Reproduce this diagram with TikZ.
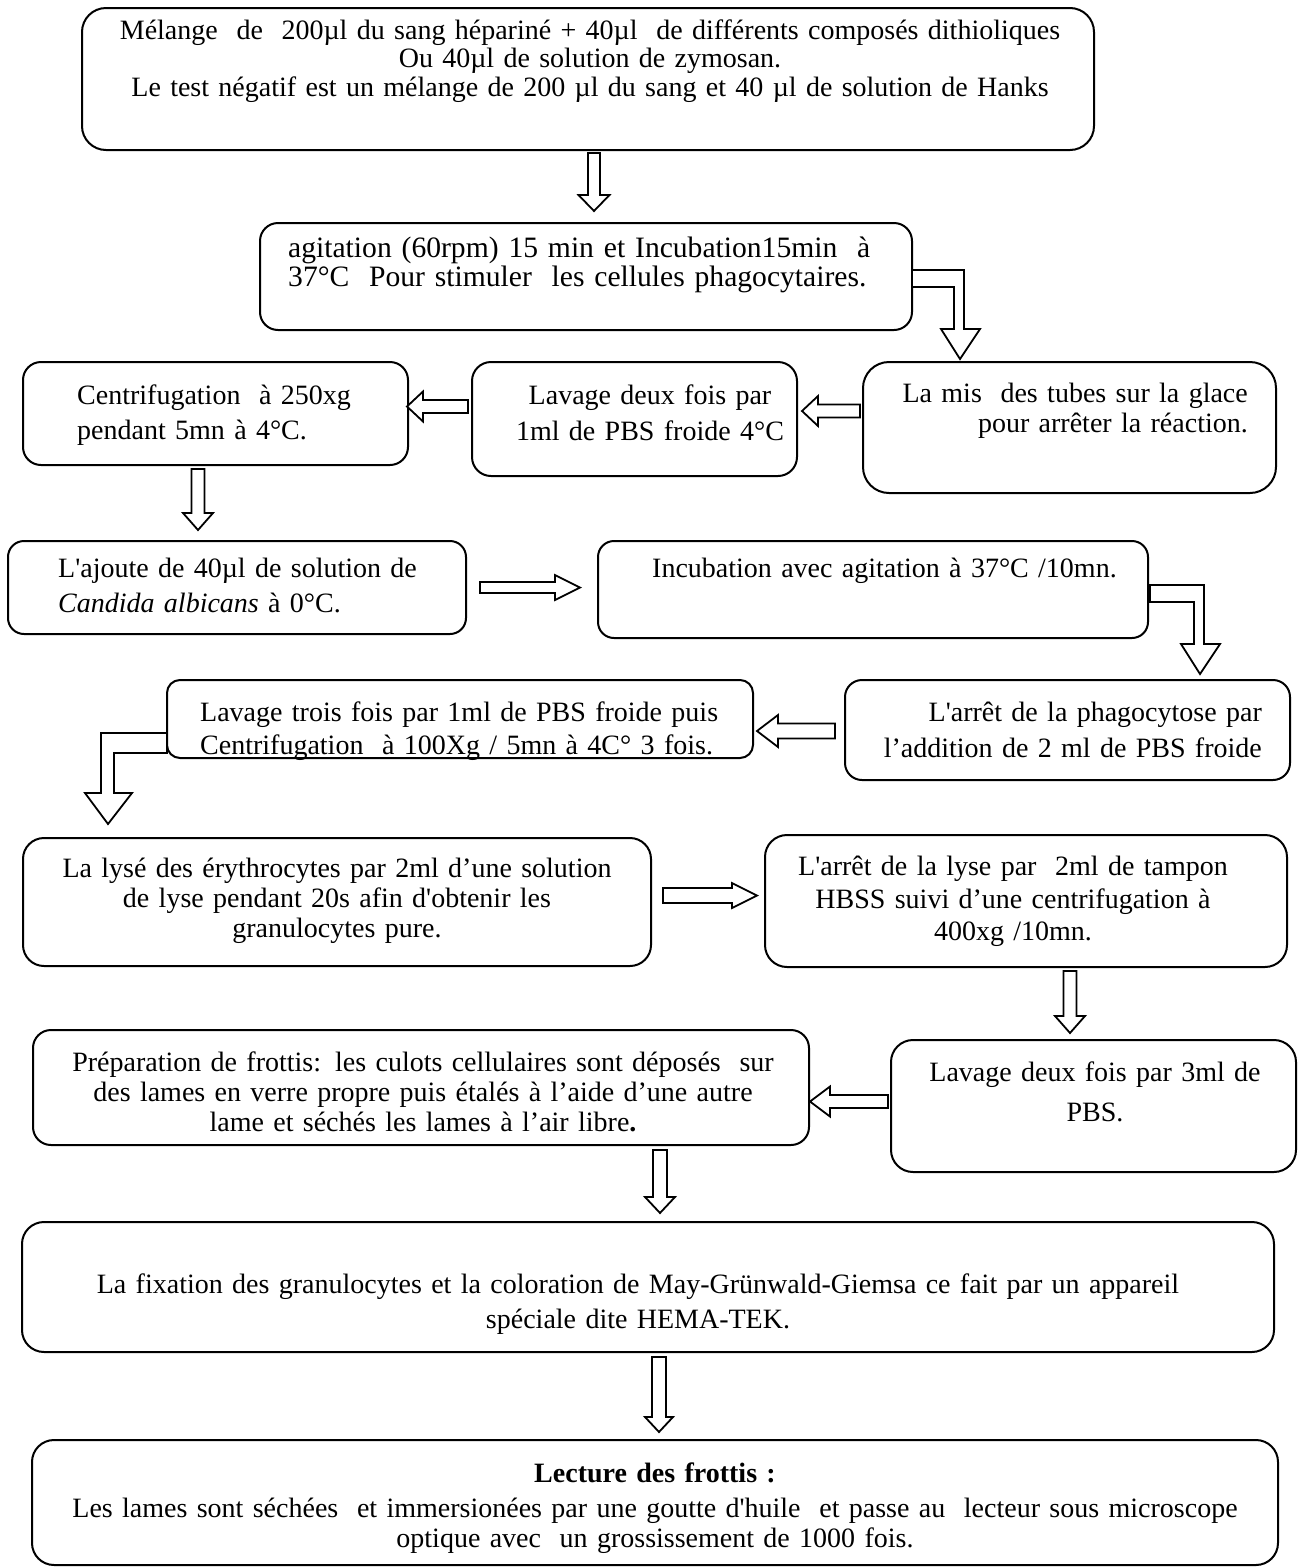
\documentclass[tikz,border=0pt]{standalone}
\usepackage{fontspec}
\setmainfont{Liberation Serif}
\usetikzlibrary{fit}
\tikzset{
  box/.style={draw, line width=2pt, inner sep=0pt, rounded corners=#1},
  box/.default=20pt,
  blk/.style={draw, line width=1.8pt, fill=white, line join=miter},
  txt/.style={inner sep=0pt, font=\fontsize{28pt}{30pt}\selectfont},
  bigtxt/.style={inner sep=0pt, font=\fontsize{29.6pt}{30pt}\selectfont},
}
% vertical block arrow: x, ytop, ytip, shaft half, head half, head length
\newcommand\downblk[6]{%
  \draw[blk] ({#1-#4},#2) -- ({#1+#4},#2) -- ({#1+#4},{#3-#6}) -- ({#1+#5},{#3-#6})
    -- (#1,#3) -- ({#1-#5},{#3-#6}) -- ({#1-#4},{#3-#6}) -- cycle;}
% horizontal block arrow: y, xstart, xtip, shaft half, head half, head length (negative = rightwards)
\newcommand\sideblk[6]{%
  \draw[blk] (#2,{#1-#4}) -- ({#3+#6},{#1-#4}) -- ({#3+#6},{#1-#5}) -- (#3,#1)
    -- ({#3+#6},{#1+#5}) -- ({#3+#6},{#1+#4}) -- (#2,{#1+#4}) -- cycle;}
\begin{document}
\begin{tikzpicture}[x=1pt,y=-1pt]
\useasboundingbox (0,0) rectangle (1301,1567);
% boxes
\node[box=24pt, fit={(82,8) (1094,150)}] (b1) {};
\node[box=18pt, fit={(260,223) (912,330)}] (b2) {};
\node[box=26pt, fit={(863,362) (1276,493)}] (b3) {};
\node[box=19pt, fit={(472,362) (797,476)}] (b4) {};
\node[box=18pt, fit={(23,362) (408,465)}] (b5) {};
\node[box=16pt, fit={(8,541) (466,634)}] (b6) {};
\node[box=16pt, fit={(598,541) (1148,638)}] (b7) {};
\node[box=17pt, fit={(845,680) (1290,780)}] (b8) {};
\node[box=13pt, fit={(167,680) (753,758)}] (b9) {};
\node[box=21pt, fit={(23,838) (651,966)}] (b10) {};
\node[box=22pt, fit={(765,835) (1287,967)}] (b11) {};
\node[box=22pt, fit={(891,1040) (1296,1172)}] (b12) {};
\node[box=18pt, fit={(33,1030) (809,1145)}] (b13) {};
\node[box=22pt, fit={(22,1222) (1274,1352)}] (b14) {};
\node[box=22pt, fit={(32,1440) (1278,1565)}] (b15) {};
% texts
\node[txt, text width=1000pt, align=center, anchor=base] (t1) at (590,39)
  {Mélange\ \ de\ \ 200µl du sang hépariné + 40µl\ \ de différents composés dithioliques\\[-1.5pt]
   Ou 40µl de solution de zymosan.\\[-1.5pt]
   Le test négatif est un mélange de 200 µl du sang et 40 µl de solution de Hanks};
\node[bigtxt, text width=620pt, align=left, anchor=base west] (t2) at (288,257)
  {agitation (60rpm) 15 min et Incubation15min\ \ à\\[-1pt]
   37°C\ \ Pour stimuler\ \ les cellules phagocytaires.};
\node[txt, text width=400pt, align=right, anchor=base east] (t3) at (1248,402)
  {La mis\ \ des tubes sur la glace\\
   pour arrêter la réaction.};
\node[txt, text width=310pt, align=center, anchor=base] (t4) at (650,404)
  {Lavage deux fois par\\[6pt]
   1ml de PBS froide 4°C};
\node[txt, text width=350pt, align=left, anchor=base west] (t5) at (77,404)
  {Centrifugation\ \ à 250xg\\[5pt]
   pendant 5mn à 4°C.};
\node[txt, text width=400pt, align=left, anchor=base west] (t6) at (58,577)
  {L\textquotesingle ajoute de 40µl de solution de\\[5pt]
   \textit{Candida albicans} à 0°C.};
\node[txt, text width=490pt, align=left, anchor=base west] (t7) at (652,577)
  {Incubation avec agitation à 37°C /10mn.};
\node[txt, text width=420pt, align=right, anchor=base east] (t8) at (1262,721)
  {L\textquotesingle arrêt de la phagocytose par\\[6pt]
   l’addition de 2 ml de PBS froide};
\node[txt, text width=570pt, align=left, anchor=base west] (t9) at (200,721)
  {Lavage trois fois par 1ml de PBS froide puis\\[3pt]
   Centrifugation\ \ à 100Xg / 5mn à 4C° 3 fois.};
\node[txt, text width=600pt, align=center, anchor=base] (t10) at (337,877)
  {La lysé des érythrocytes par 2ml d’une solution\\
   de lyse pendant 20s afin d\textquotesingle obtenir les\\
   granulocytes pure.};
\node[txt, text width=500pt, align=center, anchor=base] (t11) at (1013,875)
  {L\textquotesingle arrêt de la lyse par\ \ 2ml de tampon\\[3pt]
   HBSS suivi d’une centrifugation à\\[2pt]
   400xg /10mn.};
\node[txt, text width=390pt, align=center, anchor=base] (t12) at (1095,1081)
  {Lavage deux fois par 3ml de\\[10pt]
   PBS.};
\node[txt, text width=760pt, align=center, anchor=base] (t13) at (423,1071)
  {Préparation de frottis: les culots cellulaires sont déposés\ \ sur\\
   des lames en verre propre puis étalés à l’aide d’une autre\\
   lame et séchés les lames à l’air libre\textbf{.}};
\node[txt, text width=1230pt, align=center, anchor=base] (t14) at (638,1293)
  {La fixation des granulocytes et la coloration de May-Grünwald-Giemsa ce fait par un appareil\\[5pt]
   spéciale dite HEMA-TEK.};
\node[txt, text width=1230pt, align=center, anchor=base] (t15) at (655,1482)
  {\textbf{Lecture des frottis :}\\[5pt]
   Les lames sont séchées\ \ et immersionées par une goutte d\textquotesingle huile\ \ et passe au\ \ lecteur sous microscope\\
   optique avec\ \ un grossissement de 1000 fois.};
% straight block arrows
\downblk{594}{153}{211}{6}{15.5}{16}
\downblk{198}{469}{530}{6.5}{15}{17}
\downblk{1070}{971}{1033}{6.5}{15}{17}
\downblk{660}{1150}{1213}{7}{15}{16}
\downblk{659}{1357}{1432}{7}{14}{15}
\sideblk{411}{860}{802}{6.5}{15}{16}
\sideblk{406.5}{468}{407}{6.5}{15}{16}
\sideblk{587.5}{480}{580}{5.5}{12.5}{-25}
\sideblk{731}{835}{757}{7.5}{16}{21}
\sideblk{895.5}{663}{757}{7.5}{12.5}{-25}
\sideblk{1101.5}{888}{810}{6.5}{15}{20}
% bent block arrows
\draw[blk] (912,270) -- (964,270) -- (964,329) -- (980,329) -- (960,359) -- (941,329)
  -- (954,329) -- (954,287) -- (912,287) -- cycle;
\draw[blk] (1150,585) -- (1204,585) -- (1204,644) -- (1220,644) -- (1200,674) -- (1181,644)
  -- (1194,644) -- (1194,602) -- (1150,602) -- cycle;
\draw[blk] (167,733) -- (101,733) -- (101,793) -- (85,793) -- (108,824) -- (132,793)
  -- (114,793) -- (114,753) -- (167,753) -- cycle;
\end{tikzpicture}
\end{document}
